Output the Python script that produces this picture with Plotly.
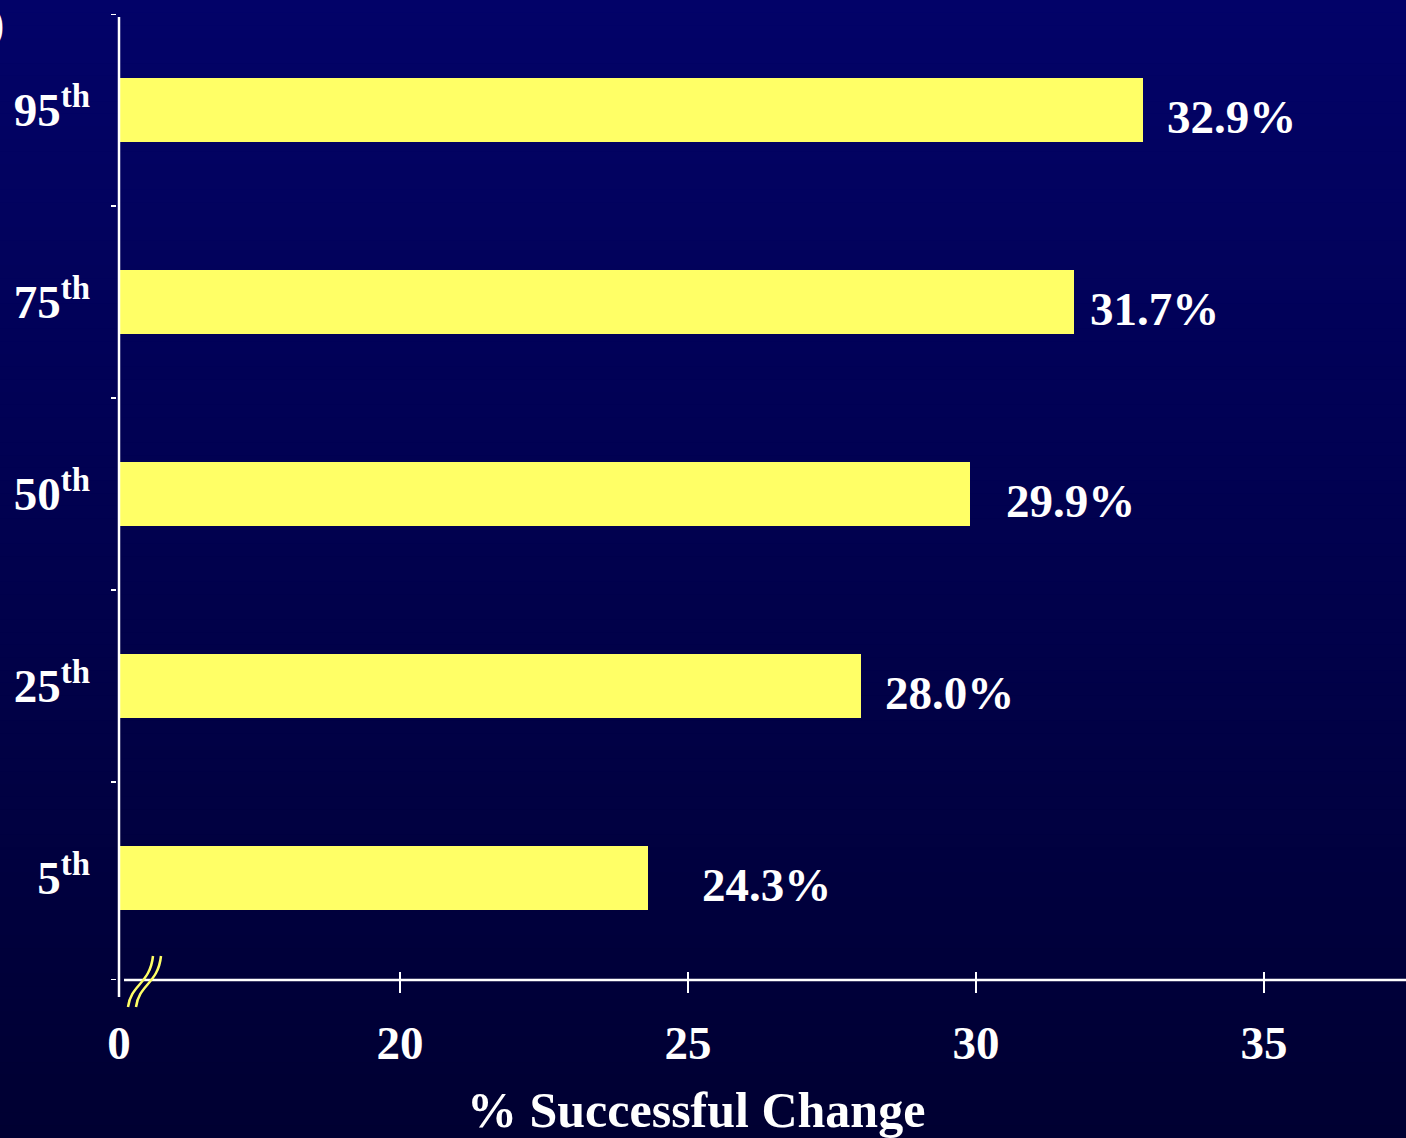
import plotly.graph_objects as go

# Percentile scenarios and the share of successful change for each
percentiles = ["5", "25", "50", "75", "95"]
success_pct = [24.3, 28.0, 29.9, 31.7, 32.9]
x_tick_values = [20, 25, 30, 35]
x_tick_text = ["20", "25", "30", "35"]
axis_title = "% Successful Change"

# horizontal gap (px) between each bar end and its value label
label_gap_px = [52, 22, 34, 14, 22]

W, H = 1406, 1138
L, R, T, B = 119, 0, 14, 158
PW, PH = W - L - R, H - T - B

# broken x axis: left edge stands for 0, then the scale runs 20..35
px_per_unit = 57.6
x_lo = 20 - (400 - L) / px_per_unit
x_hi = x_lo + PW / px_per_unit

y_pos = list(range(len(percentiles)))
y_top = 4.5
y_bot = y_top - PH / 192.0


def px_x(px):
    return (px - L) / PW


def px_y(py):
    return (T + PH - py) / PH


font_family = "Liberation Serif, Times New Roman, serif"
white = "#ffffff"
bar_color = "#ffff66"

fig = go.Figure()
fig.add_trace(go.Bar(
    x=success_pct,
    y=y_pos,
    orientation="h",
    width=0.335,
    marker=dict(color=bar_color, line=dict(width=0)),
    hoverinfo="skip",
))

shapes = []

# vertical background gradient, deep navy fading darker downwards
n_strips = 90
top_rgb = (2, 2, 104)
bot_rgb = (0, 0, 50)
for i in range(n_strips):
    t = i / (n_strips - 1)
    c = tuple(round(a + (b - a) * t) for a, b in zip(top_rgb, bot_rgb))
    y0 = i * H / n_strips
    y1 = (i + 1) * H / n_strips + 1
    shapes.append(dict(
        type="rect", xref="paper", yref="paper", layer="below",
        x0=px_x(-2), x1=px_x(W + 2), y0=px_y(y1), y1=px_y(y0),
        fillcolor="rgb(%d,%d,%d)" % c, line=dict(width=0),
    ))

# axis lines
shapes.append(dict(type="line", xref="paper", yref="paper",
                   x0=0, x1=0, y0=px_y(997), y1=px_y(17),
                   line=dict(color=white, width=2.5)))
shapes.append(dict(type="line", xref="paper", yref="paper",
                   x0=px_x(124), x1=1, y0=0, y1=0,
                   line=dict(color=white, width=2.5)))

# y tick marks on the category boundaries
for yb in [4.5, 3.5, 2.5, 1.5, 0.5, y_bot]:
    shapes.append(dict(type="line", xref="paper", yref="y",
                       xsizemode="pixel", xanchor=0, x0=-8, x1=-3,
                       y0=yb, y1=yb, line=dict(color=white, width=2)))

# x tick marks crossing the axis line
for xv in x_tick_values:
    shapes.append(dict(type="line", xref="x", yref="paper",
                       ysizemode="pixel", yanchor=0, y0=-13, y1=8,
                       x0=xv, x1=xv, line=dict(color=white, width=2)))

# axis break marks
for dx in (0, 8):
    p = [(128 + dx, 1007), (131 + dx, 984), (150 + dx, 984), (153 + dx, 956)]
    path = "M %f,%f C %f,%f %f,%f %f,%f" % (
        px_x(p[0][0]), px_y(p[0][1]), px_x(p[1][0]), px_y(p[1][1]),
        px_x(p[2][0]), px_y(p[2][1]), px_x(p[3][0]), px_y(p[3][1]))
    shapes.append(dict(type="path", xref="paper", yref="paper", path=path,
                       line=dict(color=bar_color, width=2.5)))

annotations = []
for v, yp, gap in zip(success_pct, y_pos, label_gap_px):
    annotations.append(dict(
        x=v, y=yp, xref="x", yref="y", text="%.1f%%" % v,
        xanchor="left", yanchor="middle", xshift=gap, yshift=-7,
        showarrow=False, font=dict(family=font_family, size=47, color=white),
    ))

annotations.append(dict(
    x=px_x(696), y=px_y(1110), xref="paper", yref="paper", text=axis_title,
    xanchor="center", yanchor="middle", showarrow=False,
    font=dict(family=font_family, size=50, color=white),
))
annotations.append(dict(
    x=px_x(6), y=px_y(24), xref="paper", yref="paper", text=")",
    xanchor="right", yanchor="middle", showarrow=False,
    font=dict(family=font_family, size=46, color=white),
))

fig.update_layout(
    width=W, height=H,
    margin=dict(l=L, r=R, t=T, b=B, autoexpand=False),
    paper_bgcolor="rgba(0,0,0,0)",
    plot_bgcolor="rgba(0,0,0,0)",
    showlegend=False,
    bargap=0,
    font=dict(family=font_family, color=white, size=47, weight="bold"),
    shapes=shapes,
    annotations=annotations,
    xaxis=dict(
        range=[x_lo, x_hi],
        tickmode="array",
        tickvals=[x_lo] + x_tick_values,
        ticktext=["0"] + x_tick_text,
        ticks="", showgrid=False, zeroline=False, showline=False,
        ticklabelstandoff=31,
        tickfont=dict(family=font_family, size=47, color=white, weight="bold"),
        fixedrange=True,
    ),
    yaxis=dict(
        range=[y_bot, y_top],
        tickmode="array",
        tickvals=y_pos,
        ticktext=[p + "<sup>th</sup>" for p in percentiles],
        ticks="", showgrid=False, zeroline=False, showline=False,
        ticklabelstandoff=28,
        tickfont=dict(family=font_family, size=47, color=white, weight="bold"),
        fixedrange=True,
    ),
)

fig.write_html("out.html", config={"displayModeBar": False})
